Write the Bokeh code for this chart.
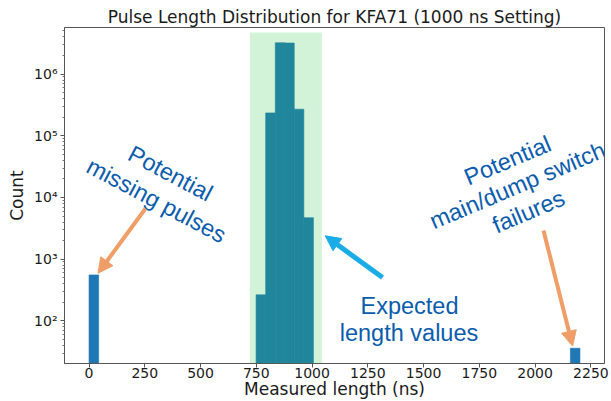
import math

from bokeh.plotting import figure
from bokeh.models import Range1d, FixedTicker, Label, Arrow, NormalHead, BoxAnnotation
from bokeh.embed import file_html
from bokeh.resources import INLINE

# Histogram of measured pulse lengths (ns): bin left edges, common bin width, counts
bin_left = [0, 749, 792, 835, 877, 920, 963, 2158]
bin_width = 43
counts = [556, 264, 235000, 3220000, 3190000, 270000, 4700, 36]

# Axis ticks
x_ticks = [0, 250, 500, 750, 1000, 1250, 1500, 1750, 2000, 2250]
y_ticks = [1e2, 1e3, 1e4, 1e5, 1e6]
y_tick_labels = ["10²", "10³", "10⁴", "10⁵", "10⁶"]

# Band of expected length values (ns) and its upper edge (count)
expected_band = [721, 1044]
expected_band_top = 4.73e6

TITLE = "Pulse Length Distribution for KFA71 (1000 ns Setting)"
X_LABEL = "Measured length (ns)"
Y_LABEL = "Count"
TEXT_BLUE = "#0b5cad"
ARROW_ORANGE = "#ee9e66"
ARROW_BLUE = "#1aace6"
BAR_BLUE = "#1f77b4"
INK = "#1a1a1a"

# Ranges with 5 % margins (log-space margins for the counts)
x_lo, x_hi = min(bin_left), max(bin_left) + bin_width
x_pad = 0.05 * (x_hi - x_lo)
ly_lo, ly_hi = math.log10(min(counts)), math.log10(max(counts))
ly_pad = 0.05 * (ly_hi - ly_lo)

p = figure(
    width=611, height=401,
    x_range=Range1d(x_lo - x_pad, x_hi + x_pad),
    y_range=Range1d(10 ** (ly_lo - ly_pad), 10 ** (ly_hi + ly_pad)),
    y_axis_type="log",
    output_backend="svg", toolbar_location=None,
    min_border_left=64, min_border_right=7, min_border_top=27, min_border_bottom=38,
)
p.background_fill_color = "white"
p.border_fill_color = "white"
p.grid.visible = False
p.outline_line_color = "#555555"
p.outline_line_width = 1

p.title.text = TITLE
p.title.align = "center"
p.title.text_font = "DejaVu Sans"
p.title.text_font_size = "17px"
p.title.text_font_style = "normal"
p.title.text_color = INK
p.title.standoff = 2

# Axes
p.xaxis.ticker = FixedTicker(ticks=x_ticks)
minor = [m * 10 ** e for e in range(1, 7) for m in range(2, 10)]
p.yaxis.ticker = FixedTicker(ticks=y_ticks, minor_ticks=minor)
p.yaxis.major_label_overrides = {t: s for t, s in zip(y_ticks, y_tick_labels)}

for ax in (p.xaxis, p.yaxis):
    ax.axis_line_color = "#555555"
    ax.major_tick_line_color = "#555555"
    ax.major_tick_in = 0
    ax.major_tick_out = 4
    ax.minor_tick_in = 0
    ax.minor_tick_out = 2
    ax.major_label_text_font = "DejaVu Sans"
    ax.major_label_text_font_size = "14px"
    ax.major_label_text_color = INK
    ax.axis_label_text_font = "DejaVu Sans"
    ax.axis_label_text_font_size = "17px"
    ax.axis_label_text_font_style = "normal"
    ax.axis_label_text_color = INK

p.xaxis.minor_tick_line_color = None
p.yaxis.minor_tick_line_color = "#777777"
p.xaxis.major_label_standoff = 0
p.xaxis.axis_label = X_LABEL
p.xaxis.axis_label_standoff = -2
p.yaxis.major_label_standoff = 3
p.yaxis.axis_label = Y_LABEL
p.yaxis.axis_label_standoff = 4

# Histogram bars
p.quad(
    left=bin_left,
    right=[b + bin_width for b in bin_left],
    bottom=1,
    top=counts,
    fill_color=BAR_BLUE,
    line_color=BAR_BLUE,
    line_width=0.6,
)

# Translucent band marking the expected length values
p.add_layout(BoxAnnotation(
    left=expected_band[0], right=expected_band[1], top=expected_band_top,
    fill_color="#22c33a", fill_alpha=0.2, line_alpha=0,
))


def note(text, sx, sy, angle_deg=0):
    p.add_layout(Label(
        x=sx, y=sy, x_units="screen", y_units="screen",
        text=text, angle=math.radians(angle_deg),
        text_align="center", text_baseline="middle",
        text_font="Liberation Sans", text_font_size="23.5px",
        text_color=TEXT_BLUE,
    ))


def pointer(sx, sy, x_end, y_end, color, width):
    p.add_layout(Arrow(
        x_start=sx, y_start=sy, start_units="screen",
        x_end=x_end, y_end=y_end, end_units="data",
        line_color=color, line_width=width,
        end=NormalHead(size=15, fill_color=color, line_color=color, line_width=1),
    ))


# Left: bins near zero length
note("Potential", 106, 190, -28)
note("missing pulses", 92, 163, -28)
pointer(81, 155, bin_left[0] + 40, 590, ARROW_ORANGE, 4)

# Middle: the expected peak
note("Expected", 345, 58)
note("length values", 344.5, 31)
pointer(318, 86, 1059, 2390, ARROW_BLUE, 5)

# Right: double-length pulses
note("Potential", 443, 203, 23)
note("main/dump switch", 453, 178, 23)
note("failures", 464, 152, 23)
pointer(479, 133, bin_left[-1] + 10, 39, ARROW_ORANGE, 4)

open("out.html", "w").write(file_html(p, INLINE))
